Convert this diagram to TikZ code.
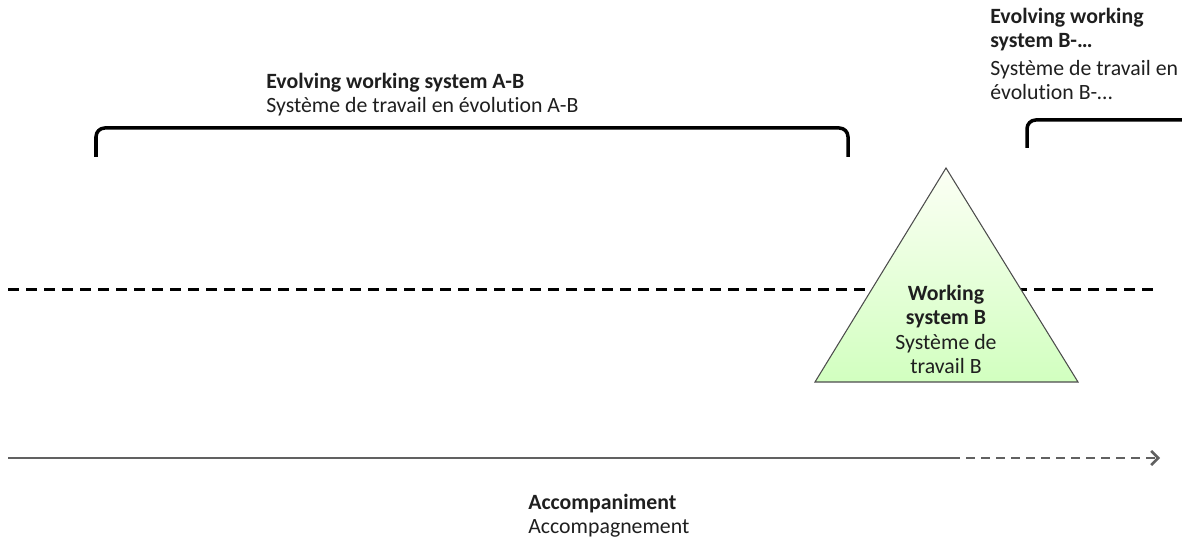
\documentclass[tikz,border=0pt]{standalone}
\usepackage{fontspec}
\setmainfont{Carlito}[Ligatures=NoCommon]
\usetikzlibrary{arrows.meta}

\begin{document}
\begin{tikzpicture}[
		lbl/.style={inner sep=0pt,align=left,font=\fontsize{12.4}{13.8}\selectfont,text=black!88},
		brace/.style={line width=2pt,rounded corners=5pt},
		level/.style={line width=1.7pt,dash pattern=on 0.22cm off 0.14cm},
		timeline/.style={line width=1.5pt,draw=black!62}]
		\useasboundingbox (0,0) rectangle (23.64,10.86);
		\coordinate (AB1) at (1.92,7.72);
		\coordinate (AB2) at (16.96,7.72);
		\coordinate (B1) at (20.54,7.9);
		\coordinate (B2) at (23.64,8.46);
		\draw[brace] (AB1) -- ++(0,0.58) -| (AB2);
		\draw[brace] (B1) |- (B2);
		\node[lbl,anchor=north west] (evolAB) at (5.32,9.4) {\textbf{Evolving working system A-B}\\Système de travail en évolution A-B};
		\node[lbl,anchor=north west] (evolB) at (19.8,10.7) {\textbf{Evolving working}\\\textbf{system B-\ldots}\\[2pt]Système de travail en\\évolution B-\ldots};
		\coordinate (L1) at (0.16,5.06);
		\coordinate (L2) at (23.2,5.06);
		\draw[level] (L1) -- (L2);
		\coordinate (top) at (18.92,7.5);
		\coordinate (bl) at (16.3,3.22);
		\coordinate (br) at (21.56,3.22);
		\draw[draw=black!70,line width=0.6pt,top color=green!8!lime!4!white,bottom color=lime!38!green!25!white] (top) -- (br) -- (bl) -- cycle;
		\node[lbl,align=center] (wsB) at (18.92,4.27) {\textbf{Working}\\\textbf{system B}\\Système de\\travail B};
		\coordinate (T1) at (0.16,1.7);
		\coordinate (T2) at (19.2,1.7);
		\coordinate (T3) at (19.32,1.7);
		\coordinate (T4) at (23.2,1.7);
		\draw[timeline] (T1) -- (T2);
		\draw[timeline,dash pattern=on 0.18cm off 0.12cm,-{Straight Barb[length=4pt,width=8pt]}] (T3) -- (T4);
		\node[lbl,anchor=north west] (acc) at (10.56,0.98) {\textbf{Accompaniment}\\Accompagnement};
	\end{tikzpicture}
\end{document}
